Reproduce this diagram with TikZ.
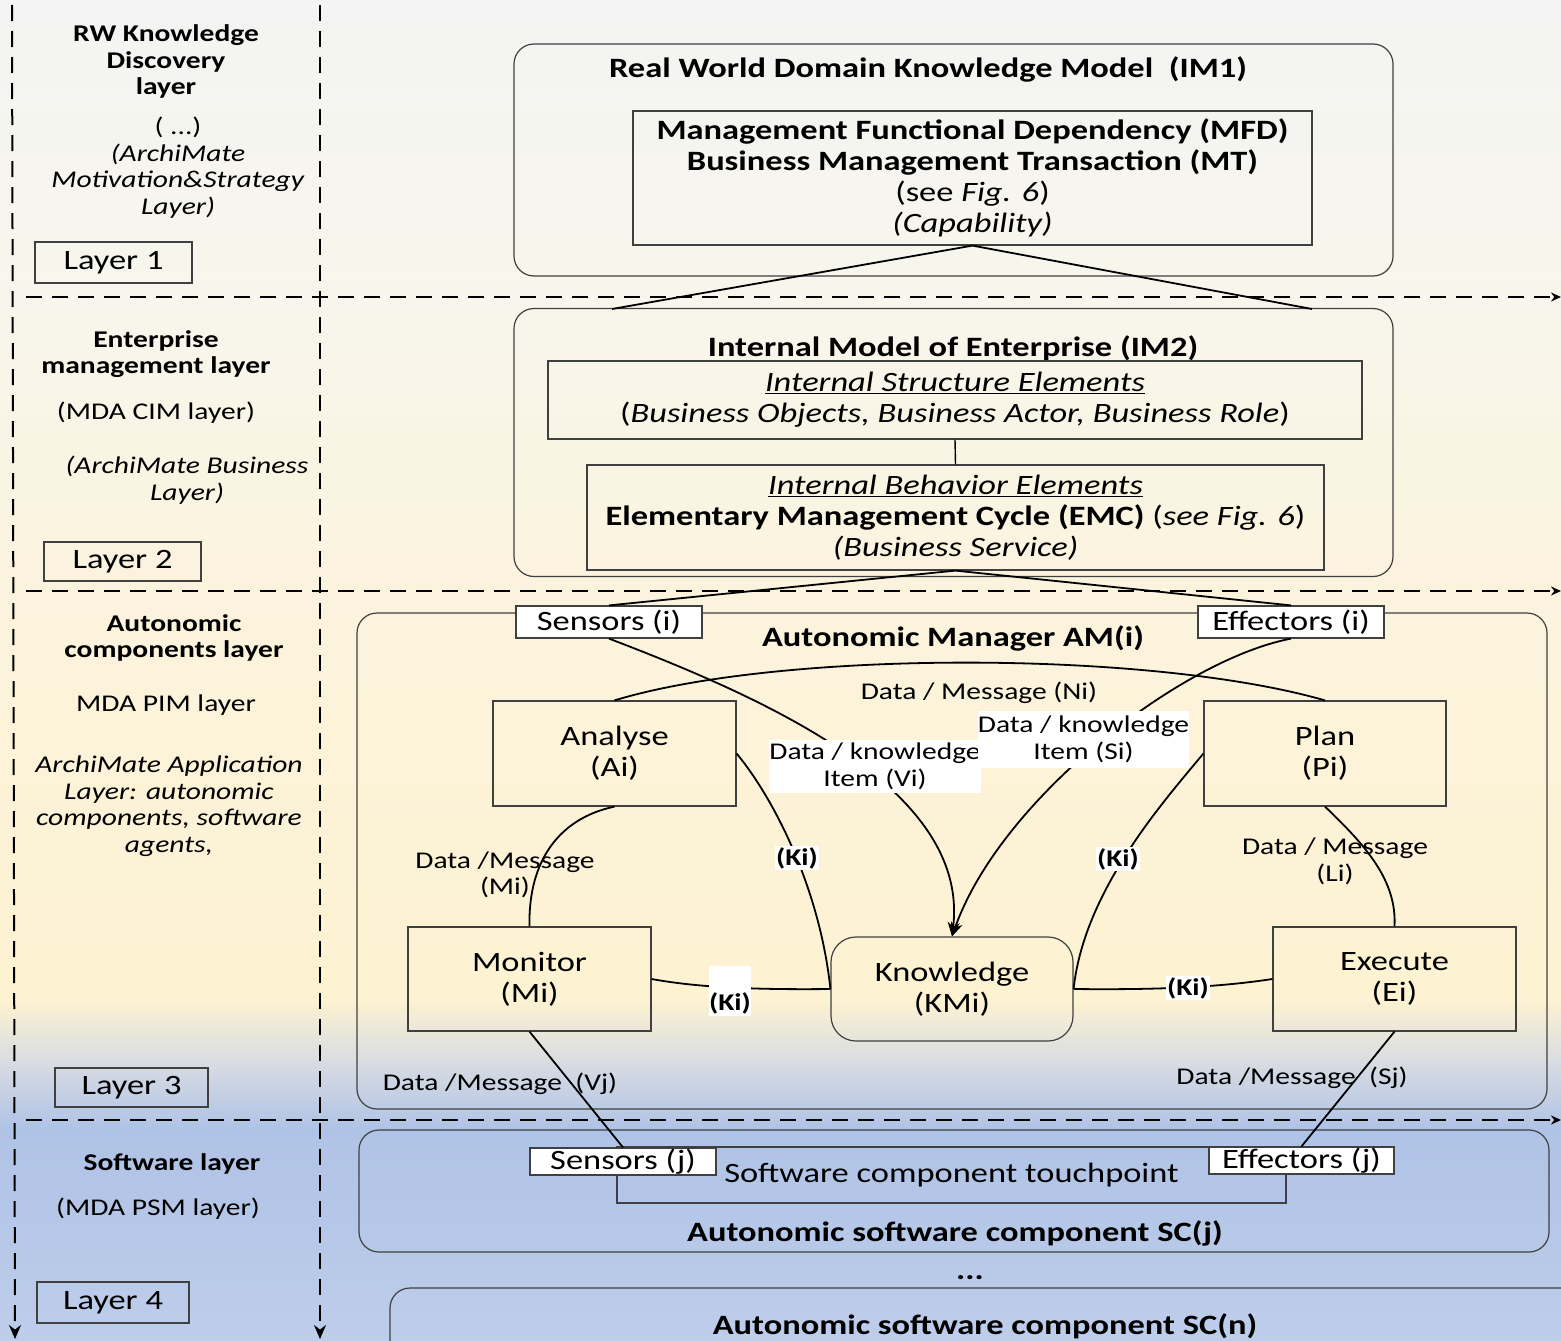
\documentclass[tikz,border=0pt]{standalone}
\usepackage{fontspec}
\setmainfont{Carlito}[FakeStretch=1.23]
\usetikzlibrary{arrows.meta}
\definecolor{bga}{HTML}{F3F4F3}
\definecolor{bgb}{HTML}{F8F6EC}
\definecolor{bgc}{HTML}{FBF3DD}
\definecolor{bgd}{HTML}{FDF2D1}
\definecolor{bge}{HTML}{D8DCE2}
\definecolor{bgf}{HTML}{AFC3E6}
\definecolor{bgg}{HTML}{BECDEA}
\definecolor{boxgray}{HTML}{404040}
\begin{document}
\begin{tikzpicture}[x=1pt,y=-1pt,
  ftbig/.style={font=\fontsize{28}{31}\selectfont},
  ftsmall/.style={font=\fontsize{24}{26.5}\selectfont},
  plainbox/.style={draw=boxgray, line width=1.2pt, rectangle, inner sep=0pt, align=center, ftbig},
  roundbox/.style={draw=boxgray, line width=1.2pt, rounded corners=20pt, inner sep=0pt},
  tagbox/.style={plainbox, fill=white},
  conn/.style={line width=1.8pt, black},
  lbl/.style={ftsmall, align=center, inner sep=0pt, yshift=-2pt},
  wlbl/.style={lbl, fill=white},
  kilbl/.style={fill=white, font=\bfseries\fontsize{24}{26}\selectfont, inner sep=1pt},
  dashln/.style={line width=2pt, dash pattern=on 16pt off 10pt},
  layerbox/.style={draw=boxgray, line width=1.2pt, ftbig, inner sep=0pt},
  ttl/.style={font=\bfseries\fontsize{28}{31}\selectfont, inner sep=0pt, align=center, yshift=-2pt},
  lefttxt/.style={ftsmall, align=center, inner sep=0pt, yshift=-2pt},
  leftbold/.style={font=\bfseries\fontsize{24}{26.5}\selectfont, align=center, inner sep=0pt, yshift=-2pt},
  tip/.style={-{Stealth[length=14pt,width=12pt]}}
]
\useasboundingbox (0,0) rectangle (1561,1341);
\clip (0,0) rectangle (1561,1341);
% background
\shade[top color=bga, bottom color=bgb] (0,0) rectangle (1561,301);
\shade[top color=bgb, bottom color=bgc] (0,300) rectangle (1561,601);
\shade[top color=bgc, bottom color=bgd] (0,600) rectangle (1561,1001);
\shade[top color=bgd, bottom color=bge] (0,1000) rectangle (1561,1063);
\shade[top color=bge, bottom color=bgf] (0,1062) rectangle (1561,1129);
\shade[top color=bgf, bottom color=bgg] (0,1128) rectangle (1561,1341);

% dashed layer lines
\coordinate (v1s) at (12,5);   \coordinate (v1e) at (15,1339);
\coordinate (v2s) at (320,5);  \coordinate (v2e) at (320,1339);
\coordinate (h1s) at (26,297); \coordinate (h1e) at (1561,297);
\coordinate (h2s) at (26,591); \coordinate (h2e) at (1561,591);
\coordinate (h3s) at (26,1120);\coordinate (h3e) at (1561,1120);
\draw[dashln, tip] (v1s) -- (v1e);
\draw[dashln, tip] (v2s) -- (v2e);
\draw[dashln, -{Stealth[length=10pt,width=9pt]}] (h1s) -- (h1e);
\draw[dashln, -{Stealth[length=10pt,width=9pt]}] (h2s) -- (h2e);
\draw[dashln, -{Stealth[length=10pt,width=9pt]}] (h3s) -- (h3e);

% left column
\node[leftbold] (t1) at (166,59.5) {RW Knowledge\\Discovery\\layer};
\node[lefttxt] (t1b) at (178,165.5) {( ...)\\\textit{(ArchiMate}\\\textit{Motivation\&Strategy}\\\textit{Layer)}};
\node[layerbox, minimum width=157, minimum height=41] (L1) at (113.5,262.5) {Layer 1};
\node[leftbold] (t2) at (156,352) {Enterprise\\management layer};
\node[lefttxt] (t2b) at (156,411) {(MDA CIM layer)};
\node[lefttxt] (t2c) at (187,478) {\textit{(ArchiMate Business}\\\textit{Layer)}};
\node[layerbox, minimum width=157, minimum height=39] (L2) at (122.5,561.5) {Layer 2};
\node[leftbold] (t3) at (174,636) {Autonomic\\components layer};
\node[lefttxt] (t3b) at (166,703) {MDA PIM layer};
\node[lefttxt] (t3c) at (169,804) {\textit{ArchiMate Application}\\\textit{Layer: autonomic}\\\textit{components, software}\\\textit{agents,}};
\node[layerbox, minimum width=153, minimum height=39] (L3) at (131.5,1087.5) {Layer 3};
\node[leftbold] (t4) at (172,1162) {Software layer};
\node[lefttxt] (t4b) at (158,1207) {(MDA PSM layer)};
\node[layerbox, minimum width=152, minimum height=41] (L4) at (113,1302.5) {Layer 4};

% IM1
\node[roundbox, minimum width=879, minimum height=232] (im1) at (953.5,160) {};
\node[ttl] (im1t) at (928,67) {Real World Domain Knowledge Model~~(IM1)};
\node[plainbox, minimum width=679, minimum height=134] (mfd) at (972.5,178)
  {\textbf{Management Functional Dependency (MFD)}\\\textbf{Business Management Transaction (MT)}\\(see \textit{Fig. 6})\\\textit{(Capability)}};

% IM2
\node[roundbox, minimum width=879, minimum height=268] (im2) at (953.5,442.5) {};
\node[ttl] (im2t) at (953,346) {Internal Model of Enterprise (IM2)};
\node[plainbox, minimum width=814, minimum height=78] (struct) at (955,400)
  {\underline{\textit{Internal Structure Elements}}\\(\textit{Business Objects, Business Actor, Business Role})};
\node[plainbox, minimum width=737, minimum height=105] (emc) at (955.5,517.5)
  {\underline{\textit{Internal Behavior Elements}}\\\textbf{Elementary Management Cycle (EMC)} (\textit{see Fig. 6})\\\textit{(Business Service)}};
\coordinate (im2l) at (612,309);
\coordinate (im2r) at (1312,309);
\draw[conn] (mfd.south) -- (im2l);
\draw[conn] (mfd.south) -- (im2r);
\draw[line width=1.4pt] (struct.south) -- (emc.north);

% Autonomic manager
\node[roundbox, minimum width=1190, minimum height=496] (am) at (952,861) {};
\node[ttl] (amt) at (953,636) {Autonomic Manager AM(i)};
\node[plainbox, minimum width=243, minimum height=105] (an) at (614.5,753.5) {Analyse\\(Ai)};
\node[plainbox, minimum width=242, minimum height=105] (pl) at (1325,753.5) {Plan\\(Pi)};
\node[plainbox, minimum width=243, minimum height=104] (mon) at (529.5,979) {Monitor\\(Mi)};
\node[plainbox, minimum width=243, minimum height=104] (ex) at (1394.5,979) {Execute\\(Ei)};
\node[plainbox, rounded corners=25pt, minimum width=242, minimum height=104] (kn) at (952,989) {Knowledge\\(KMi)};

% software layer
\node[roundbox, minimum width=1190, minimum height=122] (scj) at (954,1191) {};
\node[plainbox, minimum width=669, minimum height=56] (tp) at (951.5,1175) {Software component touchpoint};
\node[ttl] (scjt) at (955,1231) {Autonomic software component SC(j)};
\node[ttl, anchor=base] (dots) at (970,1277) {...};
\draw[roundbox] (390,1288) rectangle (1700,1420);
\node[ttl] (scnt) at (985,1324) {Autonomic software component SC(n)};

% tags
\node[tagbox, minimum width=186, minimum height=32] (sni) at (609,622) {Sensors (i)};
\node[tagbox, minimum width=186, minimum height=32] (efi) at (1291,622) {Effectors (i)};
\node[tagbox, minimum width=186, minimum height=27] (snj) at (623,1161.5) {Sensors (j)};
\node[tagbox, minimum width=185, minimum height=27] (efj) at (1301.5,1160.5) {Effectors (j)};

\draw[conn] (emc.south) -- (sni.north);
\draw[conn] (emc.south) -- (efi.north);

% connectors in AM
\draw[conn] (an.north) .. controls (780,650) and (1150,650) .. (pl.north);
\node[lbl] (lni) at (979,691) {Data / Message (Ni)};
\draw[conn, tip] (sni.south) .. controls (770,700) and (970,790) .. (kn.north);
\draw[conn, tip] (efi.south) .. controls (1180,660) and (1000,800) .. (kn.north);
\node[wlbl, minimum width=210, minimum height=53, yshift=2pt] (lvi) at (875,766.5) {Data / knowledge\\Item (Vi)};
\node[wlbl, minimum width=209, minimum height=57, yshift=2pt] (lsi) at (1083.5,739.5) {Data / knowledge\\Item (Si)};
\draw[conn] (an.south) .. controls (560,818) and (528,860) .. (mon.north);
\node[lbl] (lmi) at (505,873) {Data /Message\\(Mi)};
\draw[conn] (pl.south) .. controls (1365,845) and (1397,880) .. (ex.north);
\node[lbl] (lli) at (1335,859.5) {Data / Message\\(Li)};
\draw[conn] (an.east) .. controls (775,800) and (820,890) .. (kn.west);
\draw[conn] (pl.west) .. controls (1165,800) and (1084,890) .. (kn.east);
\draw[conn] (mon.east) .. controls (690,986) and (740,990) .. (kn.west);
\draw[conn] (kn.east) .. controls (1160,990) and (1220,987) .. (ex.west);
\node[kilbl] (k1) at (797,858) {(Ki)};
\node[kilbl] (k2) at (1118,859) {(Ki)};
\node[kilbl, minimum width=41, text height=44, text depth=6, inner sep=0pt, anchor=base] (k3) at (730,1010) {(Ki)};
\node[kilbl] (k4) at (1188,988) {(Ki)};

% to software layer
\draw[conn] (mon.south) -- (snj.north);
\draw[conn] (ex.south) -- (efj.north);
\node[lbl] (lvj) at (500,1082) {Data /Message~~(Vj)};
\node[lbl] (lsj) at (1292,1076) {Data /Message~~(Sj)};
\end{tikzpicture}
\end{document}
